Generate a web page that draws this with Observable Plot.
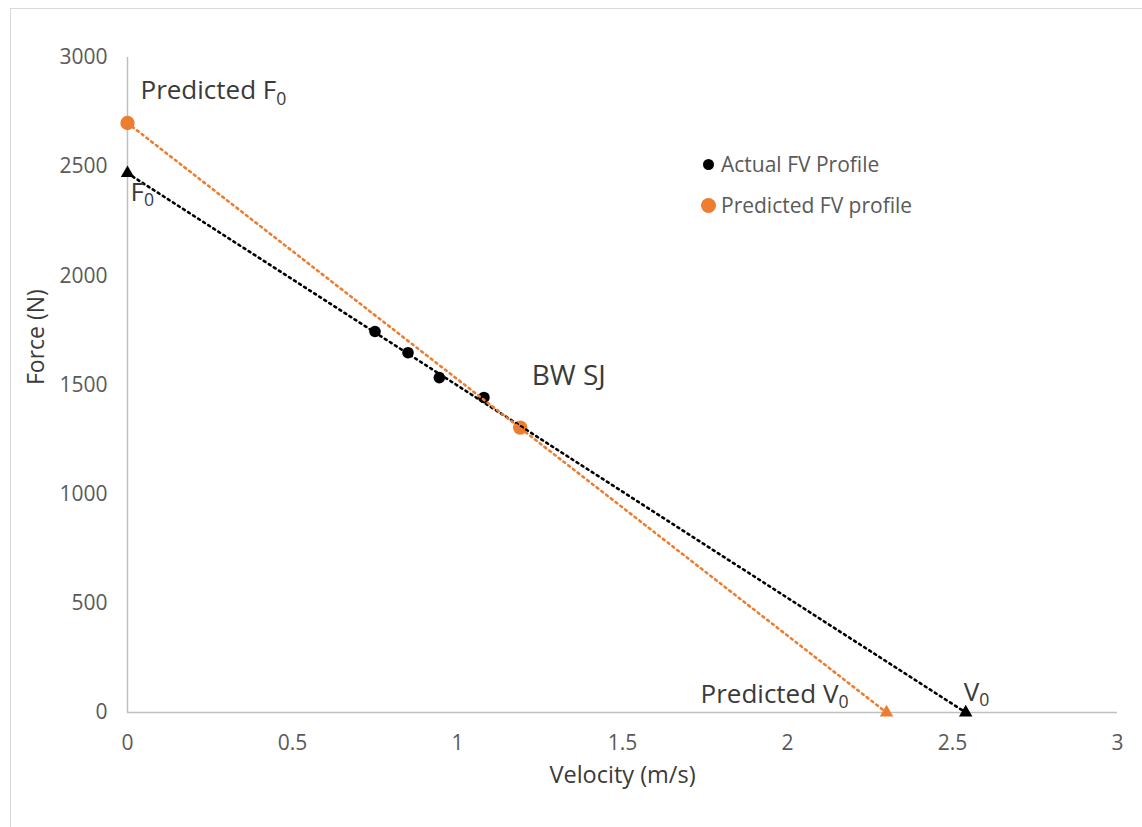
<!DOCTYPE html>
<html>
<head>
<meta charset="utf-8">
<script src="https://cdn.jsdelivr.net/npm/d3@7"></script>
<script src="https://cdn.jsdelivr.net/npm/@observablehq/plot@0.6"></script>
<style>
  html, body { margin: 0; padding: 0; background: #fff; overflow: hidden; }
  #wrap { position: relative; width: 1142px; height: 827px; font-family: "Open Sans", sans-serif; }
  #frame { position: absolute; left: 10px; top: 8px; width: 1300px; height: 1000px; border: 1px solid #d9d9d9; box-sizing: border-box; }
  #chart { position: absolute; left: 0; top: 0; }
  #legend { position: absolute; left: 699px; top: 144px; font-size: 21px; color: #595959; line-height: 41px; }
  #legend .row { display: flex; align-items: center; white-space: nowrap; }
  #legend .sw { display: inline-block; border-radius: 50%; margin-right: 5px; }
</style>
</head>
<body>
<div id="wrap">
  <div id="frame"></div>
  <div id="chart"></div>
  <div id="legend"></div>
</div>
<script>
// ---- data ----
const actualV = [0.75, 0.85, 0.945, 1.08];
const actualF = [1745, 1648, 1534, 1443];
const actualF0 = 2470;
const actualV0 = 2.54;
const predV = [1.19];
const predF = [1305];
const predF0 = 2700;
const predV0 = 2.3;
const xTicks = [0, 0.5, 1, 1.5, 2, 2.5, 3];
const yTicks = [0, 500, 1000, 1500, 2000, 2500, 3000];
const seriesNames = ["Actual FV Profile", "Predicted FV profile"];
const seriesColors = ["#000000", "#ED7D31"];
const chartLabel = "BW SJ";
const chartLabelV = 1.225;
const chartLabelF = 1543;
const xTitle = "Velocity (m/s)";
const yTitle = "Force (N)";

// ---- derived tables ----
const actualPts = actualV.map((v, i) => ({v, f: actualF[i]}));
const predPts = predV.map((v, i) => ({v, f: predF[i]}));
const actualLine = [{v: 0, f: actualF0}, {v: actualV0, f: 0}];
const predLine = [{v: 0, f: predF0}, {v: predV0, f: 0}];

const black = seriesColors[0], orange = seriesColors[1];
const txt = "#3a3a3a";

const chart = Plot.plot({
  width: 1142,
  height: 827,
  marginLeft: 127,
  marginRight: 25,
  marginTop: 57,
  marginBottom: 115,
  style: {fontFamily: "Open Sans", fontSize: "21px", background: "transparent", color: "#595959"},
  x: {domain: [0, 3]},
  y: {domain: [0, 3000]},
  marks: [
    Plot.ruleY([0], {stroke: "#bfbfbf", strokeWidth: 1.5}),
    Plot.ruleX([0], {stroke: "#bfbfbf", strokeWidth: 1.5}),
    Plot.axisX({ticks: xTicks, tickSize: 0, tickPadding: 23, tickFormat: d => String(d), label: null, fontSize: 21, fill: "#595959"}),
    Plot.axisY({ticks: yTicks, tickSize: 0, tickPadding: 20, tickFormat: d => String(d), label: null, fontSize: 21, fill: "#595959"}),
    Plot.text([xTitle], {frameAnchor: "bottom", dy: 70, fontSize: 23.5, fill: txt}),
    Plot.text([yTitle], {frameAnchor: "left", dx: -91, rotate: -90, fontSize: 23, fill: txt}),
    // markers
    Plot.dot(actualPts, {x: "v", y: "f", r: 5.8, fill: black}),
    Plot.dot(predPts, {x: "v", y: "f", r: 7.2, fill: orange}),
    Plot.dot([predLine[0]], {x: "v", y: "f", r: 7.2, fill: orange}),
    Plot.dot([actualLine[0], actualLine[1]], {x: "v", y: "f", r: 5, symbol: "triangle", fill: black}),
    Plot.dot([predLine[1]], {x: "v", y: "f", r: 5, symbol: "triangle", fill: orange}),
    // trend lines
    Plot.line(actualLine, {x: "v", y: "f", stroke: black, strokeWidth: 2.6, strokeDasharray: "2,4"}),
    Plot.line(predLine, {x: "v", y: "f", stroke: orange, strokeWidth: 2.6, strokeDasharray: "2,4"}),
    // annotations
    Plot.text([predLine[0]], {x: "v", y: "f", text: () => "Predicted F₀", textAnchor: "start", dx: 13, dy: -32, fontSize: 26, fill: txt}),
    Plot.text([actualLine[0]], {x: "v", y: "f", text: () => "F₀", textAnchor: "start", dx: 3, dy: 19, fontSize: 26, fill: txt}),
    Plot.text([predLine[1]], {x: "v", y: "f", text: () => "Predicted V₀", textAnchor: "end", dx: -38, dy: -18, fontSize: 26, fill: txt}),
    Plot.text([actualLine[1]], {x: "v", y: "f", text: () => "V₀", textAnchor: "start", dx: -2, dy: -20, fontSize: 26, fill: txt}),
    Plot.text([{v: chartLabelV, f: chartLabelF}], {x: "v", y: "f", text: () => chartLabel, textAnchor: "start", fontSize: 28, fill: txt})
  ]
});

// subscripts as real tspans
chart.querySelectorAll("text").forEach(t => {
  const s = t.textContent;
  if (s.includes("₀") && t.children.length === 0) {
    t.textContent = s.replace("₀", "");
    const ts = document.createElementNS("http://www.w3.org/2000/svg", "tspan");
    ts.setAttribute("font-size", "68%");
    ts.setAttribute("dy", "0.32em");
    ts.textContent = "0";
    t.appendChild(ts);
  }
});

document.getElementById("chart").appendChild(chart);

// legend
const lg = document.getElementById("legend");
seriesNames.forEach((name, i) => {
  const row = document.createElement("div");
  row.className = "row";
  const sw = document.createElement("span");
  sw.className = "sw";
  const d = i === 0 ? 11 : 15;
  sw.style.width = d + "px";
  sw.style.height = d + "px";
  sw.style.marginLeft = i === 0 ? "4px" : "2px";
  sw.style.marginRight = i === 0 ? "7px" : "5px";
  sw.style.background = seriesColors[i];
  row.appendChild(sw);
  const tx = document.createElement("span");
  tx.textContent = name;
  row.appendChild(tx);
  lg.appendChild(row);
});
</script>
</body>
</html>
